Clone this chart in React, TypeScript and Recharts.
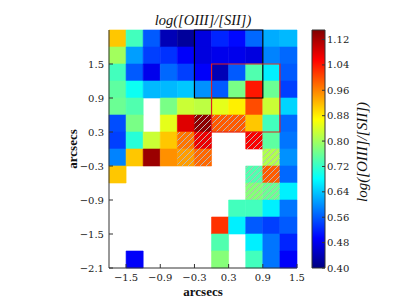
import React from 'react';
import { ComposedChart, XAxis, YAxis, ReferenceArea } from 'recharts';

// Cell grid: columns (x) from -1.8 to 1.5, rows (y) from 2.1 down to -2.1, pitch 0.3 arcsec
const xLeftEdges = [-1.8, -1.5, -1.2, -0.9, -0.6, -0.3, 0.0, 0.3, 0.6, 0.9, 1.2];
const yTopEdges = [2.1, 1.8, 1.5, 1.2, 0.9, 0.6, 0.3, 0.0, -0.3, -0.6, -0.9, -1.2, -1.5, -1.8];
const cellSize = 0.3;

const N = null;
// log([OIII]/[SII]) per cell, rows top to bottom
const cellValues: (number | null)[][] = [
  [0.91, 0.73, 0.56, 0.44, 0.42, 0.47, 0.52, 0.50, 0.57, 0.62, 0.63],
  [0.80, 0.61, 0.54, 0.53, 0.49, 0.47, 0.48, 0.48, 0.47, 0.59, 0.57],
  [0.73, 0.56, 0.48, 0.57, 0.54, 0.49, 0.44, 0.56, 0.74, 0.67, 0.56],
  [0.75, 0.69, 0.63, 0.63, 0.64, 0.60, 0.56, 0.77, 1.04, 0.76, 0.54],
  [0.76, 0.74, N, 0.77, 0.83, 0.82, 0.85, 0.88, 1.00, 0.83, 0.65],
  [0.55, 0.77, N, 0.85, 1.08, 1.14, 0.99, 0.99, 0.91, 0.73, 0.57],
  [0.54, 0.71, 0.83, 0.91, 0.97, 1.07, N, N, 1.06, 0.75, 0.58],
  [0.59, 0.91, 1.13, 0.95, 0.94, 0.98, N, N, N, 0.81, 0.60],
  [0.91, N, N, N, N, N, N, N, 0.74, 0.99, 0.57],
  [N, N, N, N, N, N, N, N, 0.78, 0.76, 0.67],
  [N, N, N, N, N, N, N, 0.73, 0.73, 0.67, 0.58],
  [N, N, N, N, N, N, 1.02, 0.67, 0.56, 0.54, 0.56],
  [N, N, N, N, N, N, 0.74, N, 0.67, 0.58, 0.52],
  [N, 0.49, N, N, N, N, 0.78, N, 0.73, 0.58, 0.49],
];

// hatched cells: [row, col]
const hatchedCells: [number, number][] = [
  [5, 5], [5, 6], [5, 7],
  [6, 4], [6, 5], [6, 8],
  [7, 4], [7, 5], [7, 9],
  [8, 8], [8, 9],
  [9, 8], [9, 9],
];

// boxes: [x1, x2, y1, y2]
const blackBox = [-0.3, 0.9, 0.9, 2.1];
const redBox = [0.0, 1.2, 0.3, 1.5];

const xTicks = [-1.5, -0.9, -0.3, 0.3, 0.9, 1.5];
const yTicks = [-2.1, -1.5, -0.9, -0.3, 0.3, 0.9, 1.5];
const cbarTicks = [0.40, 0.48, 0.56, 0.64, 0.72, 0.80, 0.88, 0.96, 1.04, 1.12];
const vMin = 0.40;
const vMax = 1.15;

const xDomain: [number, number] = [-1.8, 1.5];
const yDomain: [number, number] = [-2.1, 2.1];

const clamp = (v: number) => Math.max(0, Math.min(1, v));
function jet(v: number): string {
  const t = clamp((v - vMin) / (vMax - vMin));
  const r = clamp(Math.min(4 * t - 1.5, -4 * t + 4.5));
  const g = clamp(Math.min(4 * t - 0.5, -4 * t + 3.5));
  const b = clamp(Math.min(4 * t + 0.5, -4 * t + 2.5));
  return `rgb(${Math.round(r * 255)},${Math.round(g * 255)},${Math.round(b * 255)})`;
}

const fmt1 = (v: number) => v.toFixed(1).replace('-', '\u2212');
const fmt2 = (v: number) => v.toFixed(2);

const FONT = 'DejaVu Serif';
const FS = 10;
const axisColor = '#333';
const TL = 4; // inward tick length
const MARGIN_B = 6;
const MARGIN_L = 5;
const MARGIN_C = 2;

const BottomTick = (p: any) => {
  const ay = p.y - MARGIN_B;
  return (
    <g>
      <line x1={p.x} y1={ay} x2={p.x} y2={ay - TL} stroke={axisColor} strokeWidth={1} />
      <text x={p.x} y={p.y} dy="0.73em" textAnchor="middle" fontFamily={FONT} fontSize={FS} fill="#222">
        {fmt1(p.payload.value)}
      </text>
    </g>
  );
};
const LeftTick = (p: any) => {
  const ax = p.x + MARGIN_L;
  return (
    <g>
      <line x1={ax} y1={p.y} x2={ax + TL} y2={p.y} stroke={axisColor} strokeWidth={1} />
      <text x={p.x} y={p.y} dy="0.355em" textAnchor="end" fontFamily={FONT} fontSize={FS} fill="#222">
        {fmt1(p.payload.value)}
      </text>
    </g>
  );
};
const TopTick = (p: any) => (
  <line x1={p.x} y1={p.y} x2={p.x} y2={p.y + TL} stroke={axisColor} strokeWidth={1} />
);
const RightTick = (p: any) => (
  <line x1={p.x} y1={p.y} x2={p.x - TL} y2={p.y} stroke={axisColor} strokeWidth={1} />
);
const CbarTick = (p: any) => {
  const ax = p.x - MARGIN_C;
  return (
    <g>
      <line x1={ax} y1={p.y} x2={ax - 3} y2={p.y} stroke={axisColor} strokeWidth={1} />
      <text x={p.x} y={p.y} dy="0.355em" textAnchor="start" fontFamily={FONT} fontSize={FS} fill="#222">
        {fmt2(p.payload.value)}
      </text>
    </g>
  );
};

const xData = xLeftEdges.map((x) => ({ x: x + cellSize / 2 }));
const cbarData = [{ x: 0 }, { x: 1 }];

export default function App() {
  const cells: React.ReactNode[] = [];
  cellValues.forEach((row, ri) => {
    row.forEach((v, ci) => {
      if (v === null) return;
      const c = jet(v);
      cells.push(
        <ReferenceArea
          key={`c-${ri}-${ci}`}
          xAxisId="b"
          yAxisId="l"
          x1={xLeftEdges[ci]}
          x2={xLeftEdges[ci] + cellSize}
          y1={yTopEdges[ri] - cellSize}
          y2={yTopEdges[ri]}
          fill={c}
          fillOpacity={1}
          stroke={c}
          strokeWidth={0.6}
          ifOverflow="visible"
        />
      );
    });
  });
  const hatches = hatchedCells.map(([ri, ci]) => (
    <ReferenceArea
      key={`h-${ri}-${ci}`}
      xAxisId="b"
      yAxisId="l"
      x1={xLeftEdges[ci]}
      x2={xLeftEdges[ci] + cellSize}
      y1={yTopEdges[ri] - cellSize}
      y2={yTopEdges[ri]}
      fill="url(#hatchPat)"
      fillOpacity={1}
      stroke="none"
      ifOverflow="visible"
    />
  ));

  return (
    <div style={{ position: 'absolute', left: 0, top: 0, width: 399, height: 299, background: '#fff' }}>
      <svg width={0} height={0} style={{ position: 'absolute' }}>
        <defs>
          <pattern id="hatchPat" patternUnits="userSpaceOnUse" width={6} height={6}>
            <path d="M0,6 L6,0 M-1.5,1.5 L1.5,-1.5 M4.5,7.5 L7.5,4.5" stroke="#b8b8b8" strokeWidth={1} />
          </pattern>
          <linearGradient id="jetGrad" x1="0" y1="1" x2="0" y2="0">
            <stop offset="0" stopColor="rgb(0,0,128)" />
            <stop offset="0.125" stopColor="rgb(0,0,255)" />
            <stop offset="0.375" stopColor="rgb(0,255,255)" />
            <stop offset="0.625" stopColor="rgb(255,255,0)" />
            <stop offset="0.875" stopColor="rgb(255,0,0)" />
            <stop offset="1" stopColor="rgb(128,0,0)" />
          </linearGradient>
        </defs>
      </svg>

      <div style={{ position: 'absolute', left: 0, top: 0 }}>
        <ComposedChart width={399} height={299} data={xData} margin={{ top: 30, right: 102, bottom: 6, left: 69 }}>
          <XAxis
            xAxisId="b"
            dataKey="x"
            type="number"
            domain={xDomain}
            ticks={xTicks}
            interval={0}
            allowDataOverflow
            tick={BottomTick}
            tickLine={false}
            tickSize={0}
            tickMargin={MARGIN_B}
            height={25}
            stroke={axisColor}
          />
          <XAxis
            xAxisId="t"
            dataKey="x"
            orientation="top"
            type="number"
            domain={xDomain}
            ticks={xTicks}
            interval={0}
            allowDataOverflow
            tick={TopTick}
            tickLine={false}
            tickSize={0}
            tickMargin={0}
            height={0}
            stroke={axisColor}
          />
          <YAxis
            yAxisId="l"
            type="number"
            domain={yDomain}
            ticks={yTicks}
            interval={0}
            allowDataOverflow
            tick={LeftTick}
            tickLine={false}
            tickSize={0}
            tickMargin={MARGIN_L}
            width={40}
            stroke={axisColor}
          />
          <YAxis
            yAxisId="r"
            orientation="right"
            type="number"
            domain={yDomain}
            ticks={yTicks}
            interval={0}
            allowDataOverflow
            tick={RightTick}
            tickLine={false}
            tickSize={0}
            tickMargin={0}
            width={0}
            stroke={axisColor}
          />
          {cells}
          {hatches}
          <ReferenceArea
            xAxisId="b"
            yAxisId="l"
            x1={blackBox[0]}
            x2={blackBox[1]}
            y1={blackBox[2]}
            y2={blackBox[3]}
            fill="none"
            fillOpacity={0}
            stroke="#000"
            strokeWidth={1.2}
            ifOverflow="visible"
          />
          <ReferenceArea
            xAxisId="b"
            yAxisId="l"
            x1={redBox[0]}
            x2={redBox[1]}
            y1={redBox[2]}
            y2={redBox[3]}
            fill="none"
            fillOpacity={0}
            stroke="#e02020"
            strokeWidth={1.2}
            ifOverflow="visible"
          />
        </ComposedChart>
      </div>

      <div style={{ position: 'absolute', left: 0, top: 0 }}>
        <ComposedChart width={399} height={299} data={cbarData} margin={{ top: 30, right: 34, bottom: 31, left: 312 }}>
          <XAxis xAxisId="cx" dataKey="x" type="number" domain={[0, 1]} hide />
          <YAxis
            yAxisId="cy"
            orientation="right"
            type="number"
            domain={[vMin, vMax]}
            ticks={cbarTicks}
            interval={0}
            allowDataOverflow
            tick={CbarTick}
            tickLine={false}
            tickSize={0}
            tickMargin={MARGIN_C}
            axisLine={false}
            width={40}
          />
          <ReferenceArea
            xAxisId="cx"
            yAxisId="cy"
            x1={0}
            x2={1}
            y1={vMin}
            y2={vMax}
            fill="url(#jetGrad)"
            fillOpacity={1}
            stroke={axisColor}
            strokeWidth={1}
            ifOverflow="visible"
          />
        </ComposedChart>
      </div>

      <svg width={399} height={299} style={{ position: 'absolute', left: 0, top: 0, pointerEvents: 'none' }}>
        <text x={203} y={25} textAnchor="middle" fontFamily="Liberation Serif" fontStyle="italic" fontSize={14.5} fill="#111">
          log([OIII]/[SII])
        </text>
        <text x={203} y={296} textAnchor="middle" fontFamily="Liberation Serif" fontWeight="bold" fontSize={13} fill="#111">
          arcsecs
        </text>
        <text
          x={0}
          y={0}
          transform="translate(77,149) rotate(-90)"
          textAnchor="middle"
          fontFamily="Liberation Serif"
          fontWeight="bold"
          fontSize={13}
          fill="#111"
        >
          arcsecs
        </text>
        <text
          x={0}
          y={0}
          transform="translate(367,152) rotate(-90)"
          textAnchor="middle"
          fontFamily="Liberation Serif"
          fontStyle="italic"
          fontSize={15}
          fill="#111"
        >
          log([OIII]/[SII])
        </text>
      </svg>
    </div>
  );
}
